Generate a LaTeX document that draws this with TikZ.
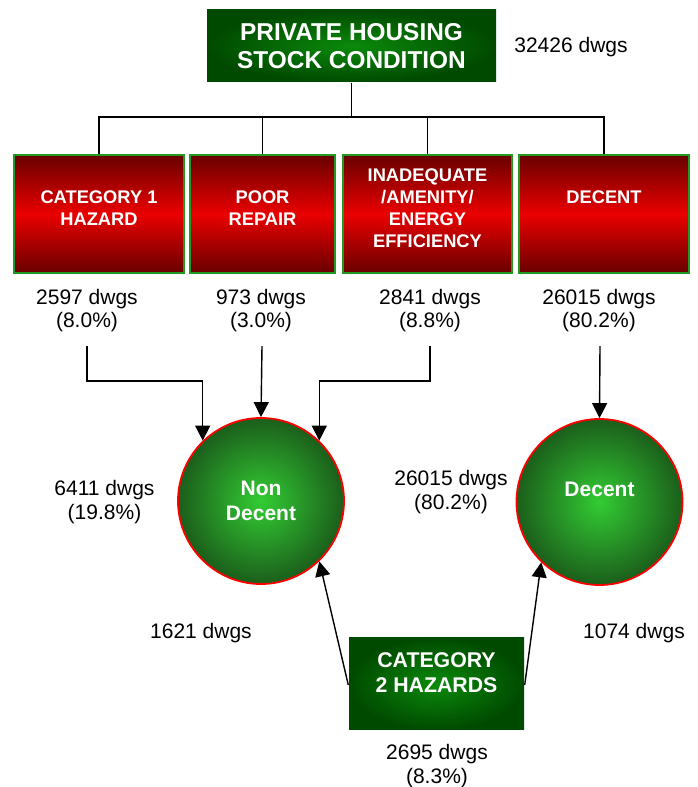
\documentclass[tikz,border=0pt]{standalone}
\usepackage{fontspec}
\setmainfont{Liberation Sans}
\usetikzlibrary{arrows.meta}
\usetikzlibrary{positioning}
\definecolor{darkgrn}{HTML}{004A00}
\definecolor{litgrn}{HTML}{0B8A0B}
\definecolor{ballout}{HTML}{1B5E1B}
\definecolor{ballin}{HTML}{33CC33}
\definecolor{darkred}{HTML}{680000}
\definecolor{litred}{HTML}{EA0000}
\definecolor{rimgrn}{HTML}{229922}
\begin{document}
\begin{tikzpicture}[x=1pt,y=1pt,>={Triangle[width=15pt,length=15pt]},line width=1.4pt,
  green node/.style={rectangle,inner color=litgrn,outer color=darkgrn,draw=none},
  red node/.style={rectangle,top color=darkred,bottom color=darkred,middle color=litred,draw=rimgrn,line width=1.8pt,minimum height=118},
  ball node/.style={circle,inner color=ballin,outer color=ballout,draw=red,line width=1.8pt,minimum size=166},
  head text/.style={text=white,align=center,font=\bfseries\fontsize{18.3}{22}\selectfont},
  count node/.style={align=center,font=\fontsize{21}{23.5}\selectfont}]
  \useasboundingbox (0,0) rectangle (697,787);
  % top of the tree
  \node[green node,minimum width=289,minimum height=72,head text,font=\bfseries\fontsize{24.4}{28}\selectfont] (phs) at (351.5,741) {PRIVATE HOUSING\\STOCK CONDITION};
  \node[count node] (tot) at (571,740) {32426 dwgs};
  % the four groups
  \node[red node,minimum width=170] (haz) at (99,573) {};
  \node[red node,minimum width=145] (rep) at (262.5,573) {};
  \node[red node,minimum width=169] (ina) at (427.5,573) {};
  \node[red node,minimum width=170] (dec) at (604,573) {};
  \node[head text] at ([yshift=6]haz.center) {CATEGORY 1\\HAZARD};
  \node[head text] at ([yshift=6]rep.center) {POOR\\REPAIR};
  \node[head text] at ([yshift=6]ina.center) {INADEQUATE\\/AMENITY/\\ENERGY\\EFFICIENCY};
  \node[head text] at ([yshift=17]dec.center) {DECENT};
  \coordinate (bus) at (351.5,670);
  \draw (phs.south) -- (bus);
  \draw (haz.north) |- (dec.north |- bus) -- (dec.north);
  \draw (rep.north) -- (rep.north |- bus);
  \draw (ina.north) -- (ina.north |- bus);
  \node[count node] (nhaz) at (87,476.5) {2597 dwgs\\(8.0\%)};
  \node[count node] (nrep) at (261,476.5) {973 dwgs\\(3.0\%)};
  \node[count node] (nina) at (430,476.5) {2841 dwgs\\(8.8\%)};
  \node[count node] (ndec) at (599,476.5) {26015 dwgs\\(80.2\%)};
  % outcome circles
  \node[ball node] (nd) at (261,286) {};
  \node[ball node] (dc) at (599.5,285) {};
  \node[head text,font=\bfseries\fontsize{21}{25}\selectfont] at (nd.center) {Non\\Decent};
  \node[head text,font=\bfseries\fontsize{21}{25}\selectfont] at ([yshift=13]dc.center) {Decent};
  \node[count node] (nnd) at (104.5,285) {6411 dwgs\\(19.8\%)};
  \node[count node] (ndc) at (451,295) {26015 dwgs\\(80.2\%)};
  \draw[->] ([yshift=-10]nhaz.south) -- ++(0,-35) -| (nd.134);
  \draw[->] ([xshift=1,yshift=-10]nrep.south) -- (nd.north);
  \draw[->] ([yshift=-10]nina.south) -- ++(0,-35) -| (nd.46);
  \draw[->] ([xshift=1,yshift=-10]ndec.south) -- (dc.north);
  % category 2
  \node[green node,minimum width=175,minimum height=92] (cat) at (436.5,103) {};
  \node[head text,font=\bfseries\fontsize{21.3}{25}\selectfont] at ([yshift=11]cat.center) {CATEGORY\\2 HAZARDS};
  \node[count node] (ncat) at (437,21) {2695 dwgs\\(8.3\%)};
  \node[count node] (nleft) at (201,154) {1621 dwgs};
  \node[count node] (nright) at (634,154) {1074 dwgs};
  \draw[->] ([yshift=-1]cat.west) -- (nd.314);
  \draw[->] ([yshift=-1]cat.east) -- (dc.226);
\end{tikzpicture}
\end{document}
